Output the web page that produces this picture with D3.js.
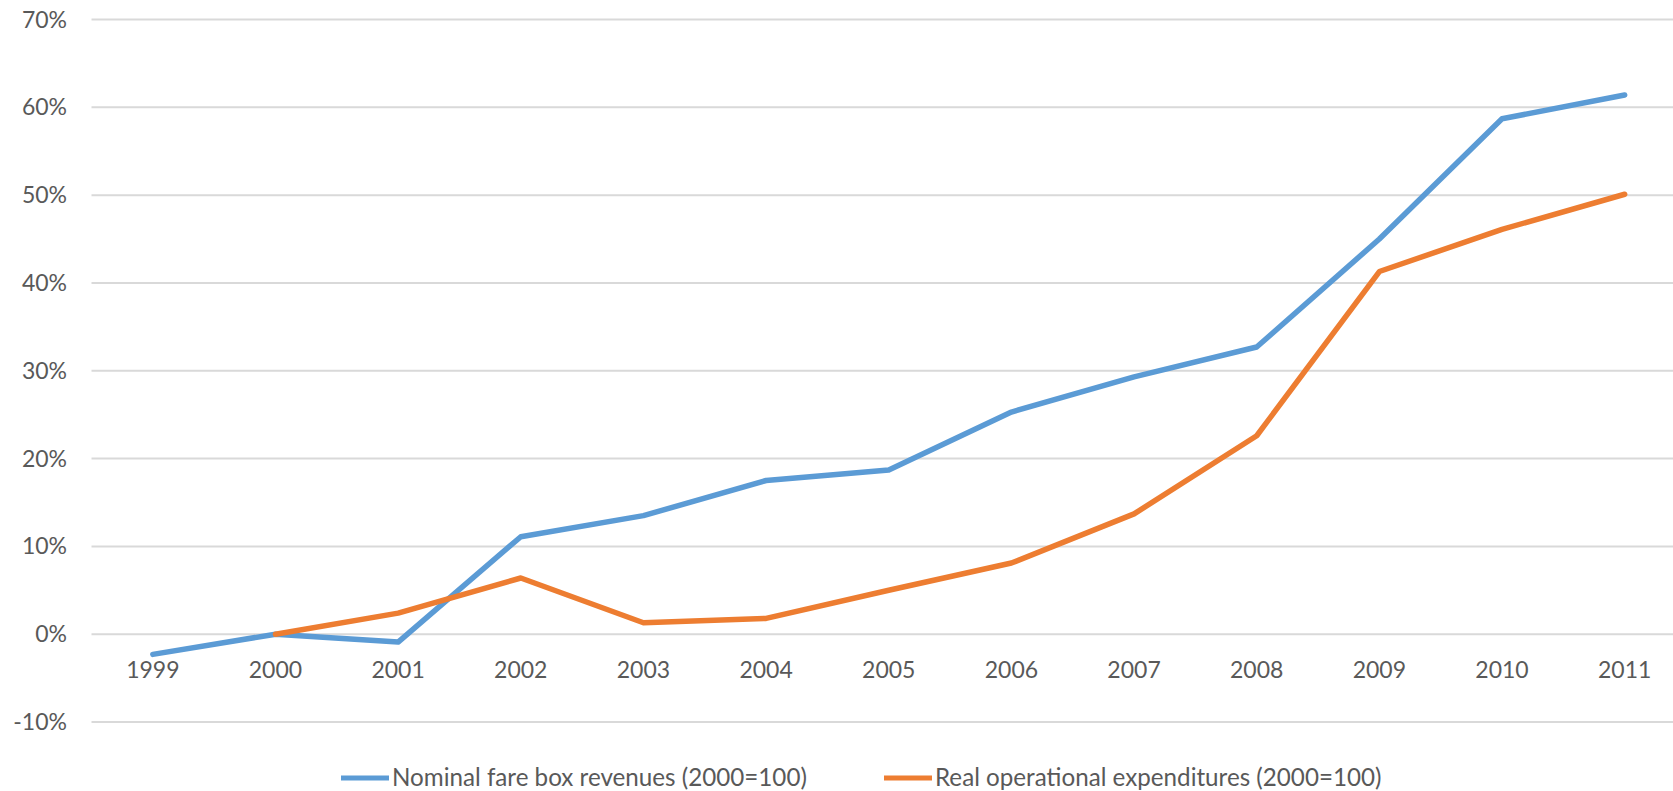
<!doctype html>
<html lang="en">
<head>
  <meta charset="utf-8">
  <title>Fare box revenues vs operational expenditures</title>
  <script src="https://cdn.jsdelivr.net/npm/d3@7"></script>
  <style>
    body { margin: 0; background: #fff; }
    svg text { font-family: Lato, "Liberation Sans", sans-serif; fill: #595959; }
  </style>
</head>
<body>
<div id="chart"></div>
<script>
// chart data
var years = ["1999","2000","2001","2002","2003","2004","2005","2006","2007","2008","2009","2010","2011"];
var nominalFare = [-2.3, 0, -0.9, 11.1, 13.5, 17.5, 18.7, 25.3, 29.3, 32.7, 45.0, 58.7, 61.4];
var realOpex    = [null, 0, 2.4, 6.4, 1.3, 1.8, 5.0, 8.1, 13.7, 22.6, 41.3, 46.1, 50.1];
var yTicks = [-10, 0, 10, 20, 30, 40, 50, 60, 70];
var seriesNames = ["Nominal fare box revenues (2000=100)", "Real operational expenditures (2000=100)"];
var seriesColors = ["#5b9bd5", "#ed7d31"];

var W = 1673, H = 791;

var svg = d3.select("#chart").append("svg")
    .attr("width", W)
    .attr("height", H);

var x = d3.scaleBand().domain(years).range([91.5, 1686]).padding(0);
var y = d3.scaleLinear().domain([-10, 70]).range([722, 19.5]);
var cx = function(d) { return x(d) + x.bandwidth() / 2; };

// gridlines
svg.append("g").selectAll("line")
  .data(yTicks)
  .enter().append("line")
    .attr("x1", x.range()[0])
    .attr("x2", x.range()[1])
    .attr("y1", function(d) { return y(d); })
    .attr("y2", function(d) { return y(d); })
    .attr("stroke", "#d9d9d9")
    .attr("stroke-width", 2);

// y labels
svg.append("g").selectAll("text")
  .data(yTicks)
  .enter().append("text")
    .attr("x", 67)
    .attr("y", function(d) { return y(d); })
    .attr("dy", "0.35em")
    .attr("text-anchor", "end")
    .style("font-size", "23px")
    .text(function(d) { return d + "%"; });

// x labels (sit just under the 0% line like Excel does)
svg.append("g").selectAll("text")
  .data(years)
  .enter().append("text")
    .attr("x", function(d) { return cx(d); })
    .attr("y", y(0) + 36)
    .attr("dy", "0.35em")
    .attr("text-anchor", "middle")
    .style("font-size", "23px")
    .text(function(d) { return d; });

var line = d3.line()
    .defined(function(d) { return d.v !== null; })
    .x(function(d) { return cx(d.year); })
    .y(function(d) { return y(d.v); });

[nominalFare, realOpex].forEach(function(vals, i) {
  var pts = years.map(function(yr, j) { return { year: yr, v: vals[j] }; });
  svg.append("path")
    .datum(pts)
    .attr("d", line)
    .attr("fill", "none")
    .attr("stroke", seriesColors[i])
    .attr("stroke-width", 5.5)
    .attr("stroke-linejoin", "round")
    .attr("stroke-linecap", "round");
});

// legend
var legendX = [341, 884];
var legend = svg.append("g").selectAll("g")
  .data(seriesNames)
  .enter().append("g")
    .attr("transform", function(d, i) { return "translate(" + legendX[i] + ",778)"; });

legend.append("line")
    .attr("x1", 0).attr("x2", 48)
    .attr("y1", 0).attr("y2", 0)
    .attr("stroke", function(d, i) { return seriesColors[i]; })
    .attr("stroke-width", 5);

legend.append("text")
    .attr("x", 51)
    .attr("dy", "0.35em")
    .style("font-size", "24.2px")
    .text(function(d) { return d; });
</script>
</body>
</html>
